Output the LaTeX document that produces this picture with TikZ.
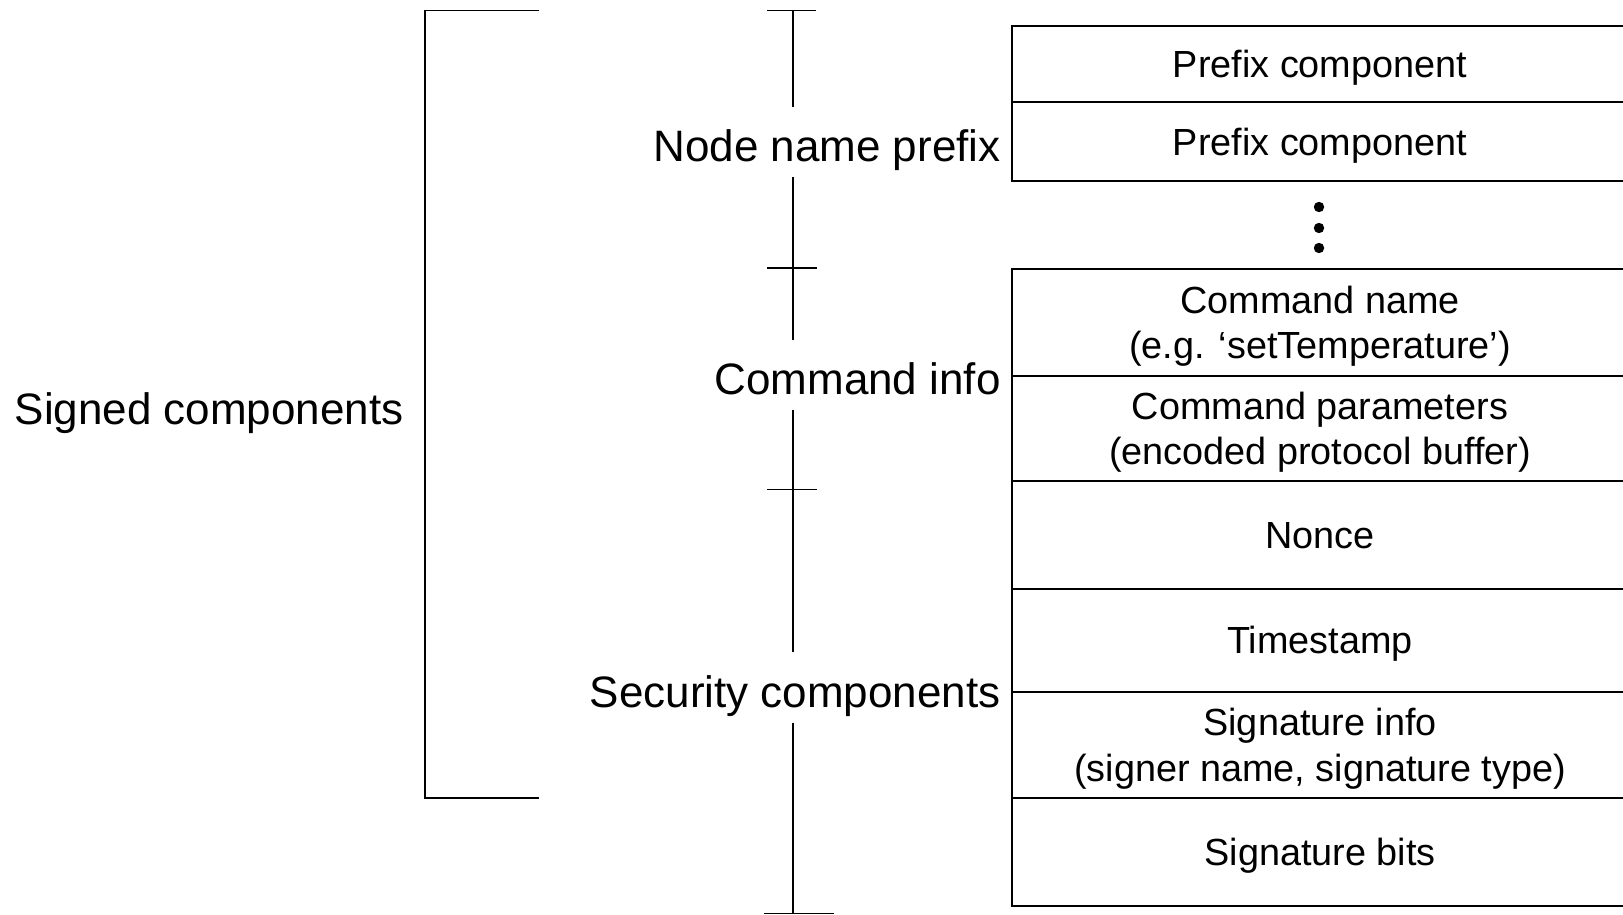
\documentclass[tikz,border=0pt]{standalone}
\usepackage{fontspec}
\setmainfont{Liberation Sans}
\usetikzlibrary{positioning}

\tikzset{
  cell/.style={draw, line width=1pt, outer sep=0pt, inner sep=0pt,
    minimum width=308pt, align=center, text depth=0pt,
    font=\fontsize{18.9}{22.7}\selectfont},
  grouplabel/.style={anchor=base east, inner xsep=0pt, inner ysep=7.5pt,
    text height=19.8pt, text depth=0pt,
    font=\fontsize{22}{26}\selectfont},
  axisline/.style={line width=0.8pt}
}

\begin{document}
\begin{tikzpicture}[x=0.5pt, y=-0.5pt]
\useasboundingbox (0,0) rectangle (1623,915);

% packet fields
\node[cell, minimum height=38.25pt] (pre1) at (1320,64.25) {Prefix component};
\node[cell, minimum height=39.25pt, below=0pt of pre1] (pre2) {Prefix component};
\node[cell, minimum height=53.5pt, below=44pt of pre2] (cmdName)
  {Command name\\(e.g. `setTemperature')};
\node[cell, minimum height=52.5pt, below=0pt of cmdName] (cmdPar)
  {Command parameters\\(encoded protocol buffer)};
\node[cell, minimum height=54pt, below=0pt of cmdPar] (nonce) {Nonce};
\node[cell, minimum height=51.25pt, below=0pt of nonce] (stamp) {Timestamp};
\node[cell, minimum height=53.25pt, below=0pt of stamp] (sigInfo)
  {Signature info\\(signer name, signature type)};
\node[cell, minimum height=54pt, below=0pt of sigInfo] (sigBits) {Signature bits};

% dots
\fill[black] (pre2.south) ++(-1,26) circle (2.6pt);
\fill[black] (pre2.south) ++(-1,47) circle (2.6pt);
\fill[black] (pre2.south) ++(-1,67) circle (2.6pt);

% group labels
\node[grouplabel] (lblPrefix) at (1001,161.8) {Node name prefix};
\node[grouplabel] (lblCmd) at (1001,394.8) {Command info};
\node[grouplabel] (lblSec) at (1001,707.3) {Security components};
\node[grouplabel] (lblSigned) at (404,424.8) {Signed components};

% scale with ticks
\coordinate (k1) at (793,10.4);
\coordinate (k2) at (793,268);
\coordinate (k3) at (793,489.6);
\coordinate (k4) at (793,913.4);
\draw[axisline] (k1) -- (lblPrefix.north -| k1) (lblPrefix.south -| k1) -- (k2)
  -- (lblCmd.north -| k1) (lblCmd.south -| k1) -- (k3)
  -- (lblSec.north -| k1) (lblSec.south -| k1) -- (k4);
\draw[axisline] (k1) ++(-26,0) -- ++(49,0);
\draw[axisline] (k2) ++(-26,0) -- ++(50,0);
\draw[axisline] (k3) ++(-26,0) -- ++(50,0);
\draw[axisline] (k4) ++(-29,0) -- ++(70,0);

% bracket
\coordinate (bTop) at (539,10.4);
\coordinate (bBot) at (539,798);
\draw[axisline] (bTop) -- ++(-114,0) |- (bBot);
\end{tikzpicture}
\end{document}
